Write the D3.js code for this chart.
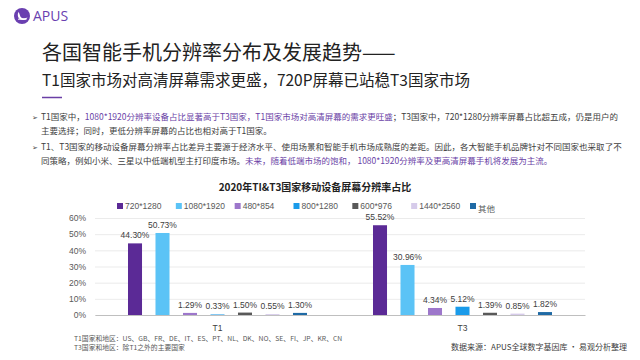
<!DOCTYPE html>
<html><head><meta charset="utf-8">
<script src="https://cdn.jsdelivr.net/npm/d3@7"></script>
<style>
html,body{margin:0;padding:0;background:#fff;}
svg{display:block;}
</style></head>
<body>
<svg id="c" width="640" height="360"></svg>
<script>
const groups = ["T1", "T3"];
const seriesNames = ["720*1280", "1080*1920", "480*854", "800*1280", "600*976", "1440*2560", "其他"];
const seriesColors = ["#5B2A96", "#5BC3F6", "#9D77CB", "#1A9BEA", "#595959", "#D6CBEA", "#1F6AA5"];
const valuesT1 = [44.30, 50.73, 1.29, 0.33, 1.50, 0.55, 1.30];
const valuesT3 = [55.52, 30.96, 4.34, 5.12, 1.39, 0.85, 1.82];
const yTicks = [0, 10, 20, 30, 40, 50, 60];

const CJK = "'Noto Sans CJK SC','Noto Sans',sans-serif";
const SANS = "'Liberation Sans','Noto Sans CJK SC',sans-serif";
const PURPLE = "#6A3FA6";

const svg = d3.select("#c");

// Logo
const logo = svg.append("g").attr("transform", "translate(22,16)");
logo.append("circle").attr("r", 8).attr("fill", "#6A3FB0");
logo.append("path").attr("d", "M-3.5,-4 C-5.5,0 -3,4.5 1.5,4 C4,3.8 5,2.5 5.5,1.5 C3,3 -1.5,2.5 -2,-0.5 C-2.3,-2 -3,-3.5 -3.5,-4 Z").attr("fill", "#fff");
logo.append("path").attr("d", "M-4,3.2 L4.5,3.2").attr("stroke", "#fff").attr("stroke-width", 1);
svg.append("text").attr("x", 33).attr("y", 21).text("APUS")
  .attr("font-family", "'Open Sans',sans-serif").attr("font-size", 14).attr("fill", "#6A3FB0");

// Titles
svg.append("text").attr("x", 42).attr("y", 60).text("各国智能手机分辨率分布及发展趋势——")
  .attr("font-family", CJK).attr("font-size", 20).attr("fill", "#222");
svg.append("text").attr("x", 42).attr("y", 86).text("T1国家市场对高清屏幕需求更盛，720P屏幕已站稳T3国家市场")
  .attr("font-family", CJK).attr("font-size", 15.5).attr("fill", "#222");
svg.append("line").attr("x1", 42).attr("x2", 62).attr("y1", 97.5).attr("y2", 97.5)
  .attr("stroke", PURPLE).attr("stroke-width", 1.5);

// Bullets
const bulletLines = [
  {y: 120, bullet: true, parts: [["T1国家中，", 0], ["1080*1920分辨率设备占比显著高于T3国家，T1国家市场对高清屏幕的需求更旺盛", 1], ["；T3国家中，720*1280分辨率屏幕占比超五成，仍是用户的", 0]]},
  {y: 134, bullet: false, parts: [["主要选择；同时，更低分辨率屏幕的占比也相对高于T1国家。", 0]]},
  {y: 150, bullet: true, parts: [["T1、T3国家的移动设备屏幕分辨率占比差异主要源于经济水平、使用场景和智能手机市场成熟度的差距。因此，各大智能手机品牌针对不同国家也采取了不", 0]]},
  {y: 164, bullet: false, parts: [["同策略，例如小米、三星以中低端机型主打印度市场。", 0], ["未来，随着低端市场的饱和， 1080*1920分辨率及更高清屏幕手机将发展为主流。", 1]]}
];
bulletLines.forEach(l => {
  if (l.bullet) svg.append("text").attr("x", 32).attr("y", l.y).text("➢")
    .attr("font-family", "'DejaVu Sans',sans-serif").attr("font-size", 7).attr("fill", "#444");
  const t = svg.append("text").attr("x", 41).attr("y", l.y)
    .attr("font-family", CJK).attr("font-size", 8.5).attr("fill", "#404040");
  l.parts.forEach(p => t.append("tspan").text(p[0]).attr("fill", p[1] ? PURPLE : "#404040"));
});

// Chart
const plot = {left: 95, right: 585, top: 218, bottom: 315};
svg.append("text").attr("x", 315).attr("y", 191).attr("text-anchor", "middle")
  .text("2020年TI&T3国家移动设备屏幕分辨率占比")
  .attr("font-family", CJK).attr("font-size", 10).attr("font-weight", "bold").attr("fill", "#222");

const y = d3.scaleLinear().domain([0, 60]).range([plot.bottom, plot.top]);
const x0 = d3.scaleBand().domain(groups).range([plot.left, plot.right]);
const x1 = d3.scaleBand().domain(seriesNames).range([0, x0.bandwidth()]).paddingInner(0.49).paddingOuter(1.2);
const color = d3.scaleOrdinal().domain(seriesNames).range(seriesColors);

// grid
const yAxis = d3.axisLeft(y).tickValues(yTicks).tickFormat(d => d + "%").tickSize(-(plot.right - plot.left)).tickPadding(9);
const ga = svg.append("g").attr("transform", `translate(${plot.left},0)`).call(yAxis);
ga.select(".domain").remove();
ga.selectAll(".tick line").attr("stroke", "#E6E6E6").attr("stroke-width", 0.8);
ga.selectAll(".tick text").attr("font-family", SANS).attr("font-size", 8.5).attr("fill", "#595959");

const data = groups.map((g, i) => ({group: g, values: (i === 0 ? valuesT1 : valuesT3).map((v, j) => ({name: seriesNames[j], value: v}))}));

const gg = svg.selectAll(".grp").data(data).join("g").attr("transform", d => `translate(${x0(d.group)},0)`);
gg.selectAll("rect").data(d => d.values).join("rect")
  .attr("x", d => x1(d.name)).attr("width", x1.bandwidth())
  .attr("y", d => y(d.value)).attr("height", d => y(0) - y(d.value))
  .attr("fill", d => color(d.name));
gg.selectAll(".lbl").data(d => d.values).join("text")
  .attr("x", d => x1(d.name) + x1.bandwidth() / 2).attr("y", d => y(d.value) - 5)
  .attr("text-anchor", "middle").text(d => d.value.toFixed(2) + "%")
  .attr("font-family", SANS).attr("font-size", 8.5).attr("fill", "#404040");

// x axis
const xAxis = d3.axisBottom(x0).tickSize(0).tickPadding(10);
const gx = svg.append("g").attr("transform", `translate(0,${plot.bottom})`).call(xAxis);
gx.select(".domain").attr("stroke", "#BFBFBF");
gx.selectAll(".tick text").attr("font-family", SANS).attr("font-size", 8.5).attr("fill", "#404040");

// legend
const lgX = d3.scalePoint().domain(seriesNames).range([117, 470]);
seriesNames.forEach((n, i) => {
  const g = svg.append("g").attr("transform", `translate(${lgX(n)},206)`);
  g.append("rect").attr("x", 0).attr("y", -3).attr("width", 6).attr("height", 6).attr("fill", seriesColors[i]);
  g.append("text").attr("x", 8).attr("y", i === 6 ? 6 : 3).text(n)
    .attr("font-family", i === 6 ? CJK : SANS).attr("font-size", 8.5).attr("fill", "#595959");
});

// footnotes
svg.append("text").attr("x", 74).attr("y", 341).text("T1国家和地区：US、GB、FR、DE、IT、ES、PT、NL、DK、NO、SE、FI、JP、KR、CN")
  .attr("font-family", CJK).attr("font-size", 6.8).attr("fill", "#595959");
svg.append("text").attr("x", 74).attr("y", 350).text("T3国家和地区：除T1之外的主要国家")
  .attr("font-family", CJK).attr("font-size", 6.8).attr("fill", "#595959");
svg.append("text").attr("x", 627).attr("y", 350).attr("text-anchor", "end").text("数据来源：APUS全球数字基因库 · 易观分析整理")
  .attr("font-family", CJK).attr("font-size", 8).attr("fill", "#404040");
</script>
</body></html>
